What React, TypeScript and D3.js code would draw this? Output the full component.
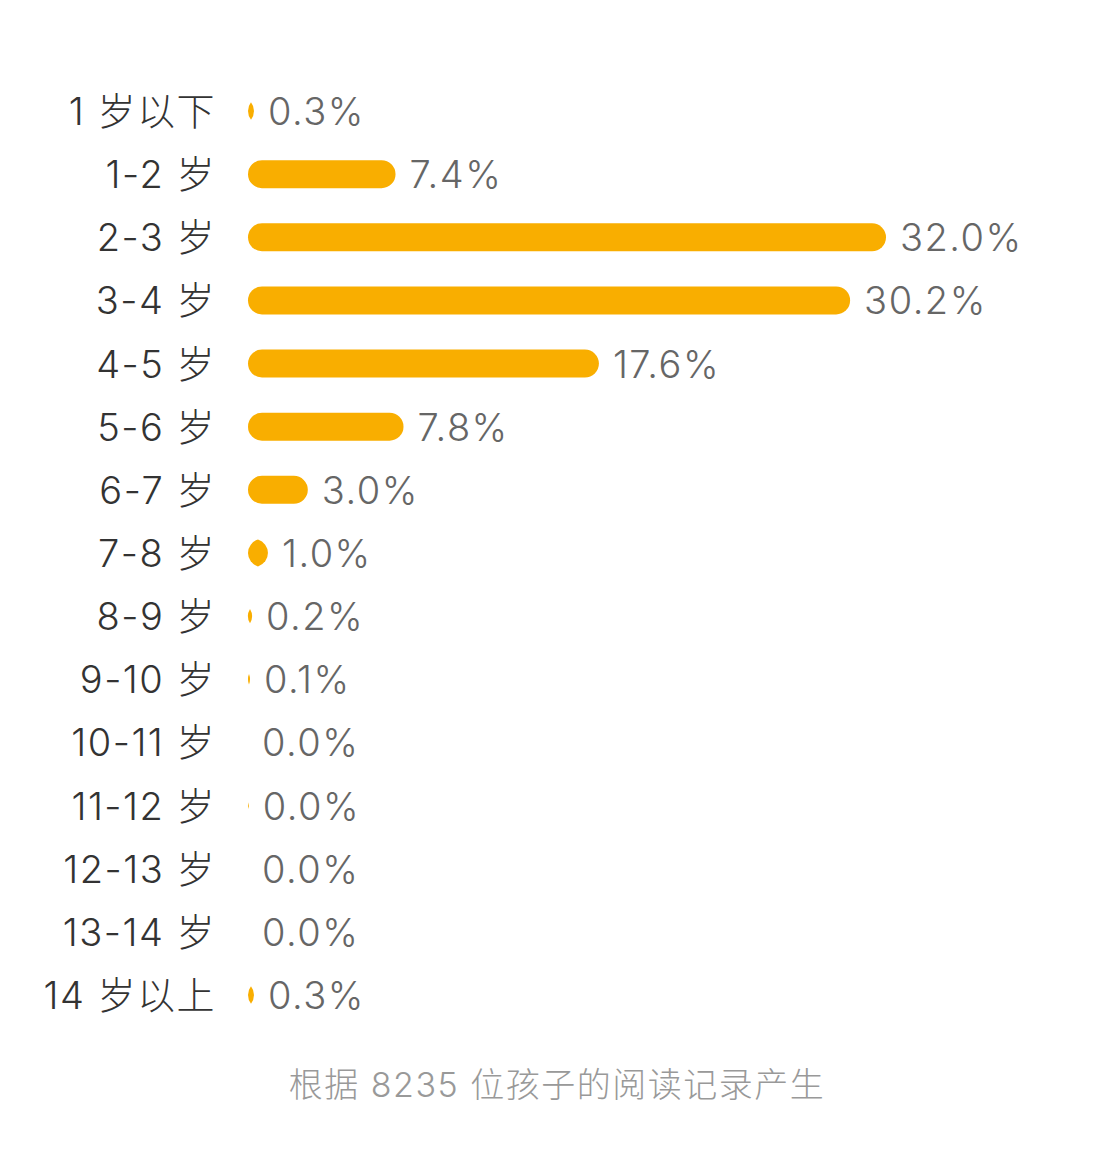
import React from "react";
import * as d3 from "d3";

const categories = [
  "1岁以下", "1-2岁", "2-3岁", "3-4岁", "4-5岁", "5-6岁", "6-7岁", "7-8岁",
  "8-9岁", "9-10岁", "10-11岁", "11-12岁", "12-13岁", "13-14岁", "14岁以上",
];
const categoryLabels = [
  "1 岁以下", "1-2 岁", "2-3 岁", "3-4 岁", "4-5 岁", "5-6 岁", "6-7 岁", "7-8 岁",
  "8-9 岁", "9-10 岁", "10-11 岁", "11-12 岁", "12-13 岁", "13-14 岁", "14 岁以上",
];
const values = [0.3, 7.4, 32.0, 30.2, 17.6, 7.8, 3.0, 1.0, 0.2, 0.1, 0.0, 0.04, 0.0, 0.0, 0.3];
const footer = "根据 8235 位孩子的阅读记录产生";

const W = 1109;
const H = 1162;
const x0 = 248;
const barH = 28;
const r = barH / 2;

function barPath(x: number, w: number, cy: number): string {
  if (w <= 0) return "";
  if (w >= 2 * r) {
    return `M${x + r},${cy - r}H${x + w - r}A${r},${r} 0 0 1 ${x + w - r},${cy + r}H${x + r}A${r},${r} 0 0 1 ${x + r},${cy - r}Z`;
  }
  const hh = Math.sqrt(r * r - (r - w / 2) * (r - w / 2));
  const xm = x + w / 2;
  return `M${xm},${cy - hh}A${r},${r} 0 0 1 ${xm},${cy + hh}A${r},${r} 0 0 1 ${xm},${cy - hh}Z`;
}

export default function App() {
  const xs = d3.scaleLinear().domain([0, 32]).range([0, 638]);
  const ys = d3.scalePoint<string>().domain(categories).range([111, 995]);
  const font = "Inter, 'Noto Sans CJK SC', sans-serif";
  return (
    <svg
      width={W}
      height={H}
      style={{ position: "absolute", left: 0, top: 0, background: "#fff" }}
      fontFamily={font}
    >
      <rect x={0} y={0} width={W} height={H} fill="#fff" />
      {categories.map((c, i) => {
        const cy = ys(c)!;
        const w = xs(values[i]);
        return (
          <g key={c}>
            <text
              x={216}
              y={cy + 14}
              textAnchor="end"
              fontSize={38}
              fontWeight={300}
              letterSpacing={1.5}
              fill="#333"
            >
              {categoryLabels[i]}
            </text>
            <path d={barPath(x0, w, cy)} fill="#F9AE00" />
            <text
              x={x0 + w + 14}
              y={cy + 14}
              fontSize={38}
              fontWeight={300}
              letterSpacing={1.5}
              fill="#666"
            >
              {values[i].toFixed(1) + "%"}
            </text>
          </g>
        );
      })}
      <text
        x={557}
        y={1097}
        textAnchor="middle"
        fontSize={34}
        fontWeight={300}
        letterSpacing={1.5}
        fill="#999"
      >
        {footer}
      </text>
    </svg>
  );
}
